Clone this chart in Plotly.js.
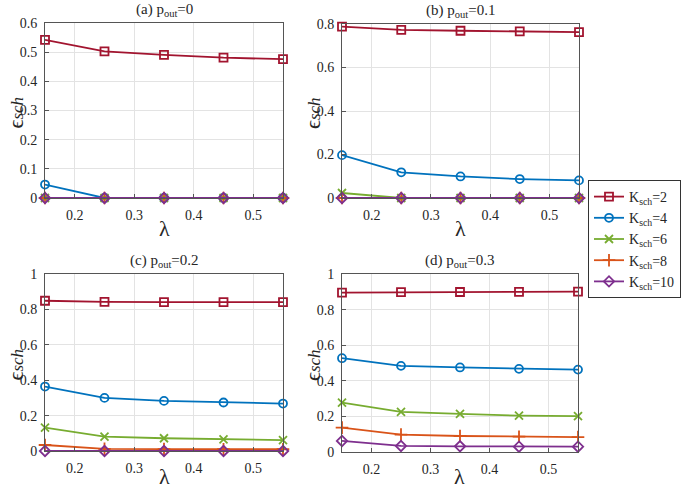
<!DOCTYPE html>
<html>
<head>
<meta charset="utf-8">
<script src="https://cdn.plot.ly/plotly-3.0.1.min.js"></script>
<style>html,body{margin:0;padding:0;background:#fff;}#chart{width:685px;height:491px;}</style>
</head>
<body>
<div id="chart"></div>
<script>
// ---- data ----
const lambda = [0.15, 0.25, 0.35, 0.45, 0.55];
const seriesNames = ['K<sub>sch</sub>=2', 'K<sub>sch</sub>=4', 'K<sub>sch</sub>=6', 'K<sub>sch</sub>=8', 'K<sub>sch</sub>=10'];
const panelTitles = ['(a) p<sub>out</sub>=0', '(b) p<sub>out</sub>=0.1', '(c) p<sub>out</sub>=0.2', '(d) p<sub>out</sub>=0.3'];
// rows: K=2, K=4, K=6, K=8, K=10
const panelA = [
  [0.542, 0.503, 0.491, 0.481, 0.476],
  [0.046, 0, 0, 0, 0],
  [0, 0, 0, 0, 0],
  [0, 0, 0, 0, 0],
  [0, 0, 0, 0, 0]
];
const panelB = [
  [0.788, 0.773, 0.769, 0.766, 0.763],
  [0.197, 0.118, 0.099, 0.087, 0.081],
  [0.023, 0, 0, 0, 0],
  [0, 0, 0, 0, 0],
  [0, 0, 0, 0, 0]
];
const panelC = [
  [0.849, 0.842, 0.841, 0.841, 0.841],
  [0.364, 0.300, 0.283, 0.274, 0.268],
  [0.132, 0.081, 0.072, 0.066, 0.062],
  [0.034, 0.012, 0.011, 0.010, 0.010],
  [0, 0, 0, 0, 0]
];
const panelD = [
  [0.895, 0.898, 0.899, 0.900, 0.901],
  [0.527, 0.484, 0.475, 0.467, 0.463],
  [0.278, 0.225, 0.214, 0.204, 0.201],
  [0.137, 0.098, 0.090, 0.086, 0.084],
  [0.062, 0.034, 0.032, 0.030, 0.030]
];
const yMax = [0.6, 0.8, 1, 1];
const yTickVals = [
  [0, 0.1, 0.2, 0.3, 0.4, 0.5, 0.6],
  [0, 0.2, 0.4, 0.6, 0.8],
  [0, 0.2, 0.4, 0.6, 0.8, 1],
  [0, 0.2, 0.4, 0.6, 0.8, 1]
];
const xTickVals = [0.2, 0.3, 0.4, 0.5];

// ---- styles ----
const colors = ['#A2142F', '#0072BD', '#77AC30', '#D95319', '#7E2F8E'];
const symbols = ['square-open', 'circle-open', 'x-thin-open', 'cross-thin-open', 'diamond-open'];
const W = 685, H = 491;
// panel boxes in pixels: [left, right, top, bottom]
const boxes = [
  [45, 283, 23, 198],
  [342, 579, 24, 198],
  [45, 283, 274, 451],
  [342, 578, 274, 452]
];
const font = '"Liberation Serif", "Times New Roman", serif';

const panels = [panelA, panelB, panelC, panelD];
const traces = [];
panels.forEach((p, pi) => {
  const ax = pi === 0 ? '' : String(pi + 1);
  p.forEach((vals, si) => {
    traces.push({
      x: lambda, y: vals, type: 'scatter', mode: 'lines+markers',
      name: seriesNames[si], showlegend: pi === 0, legendgroup: 'g' + si,
      xaxis: 'x' + ax, yaxis: 'y' + ax, cliponaxis: false,
      line: {color: colors[si], width: 1.8},
      marker: {symbol: symbols[si], size: si === 3 ? 9 : 8, color: colors[si], line: {color: colors[si], width: 1.8}}
    });
  });
});

const layout = {
  width: W, height: H, margin: {l: 0, r: 0, t: 0, b: 0},
  paper_bgcolor: '#fff', plot_bgcolor: '#fff',
  font: {family: font, size: 13, color: '#262626'},
  showlegend: true,
  legend: {
    x: 588 / W, y: 1 - 180 / H, xanchor: 'left', yanchor: 'top',
    bgcolor: '#fff', bordercolor: '#333', borderwidth: 1,
    font: {family: font, size: 14, color: '#262626'},
    tracegroupgap: 0, itemwidth: 30
  },
  annotations: []
};
boxes.forEach((b, i) => {
  const ax = i === 0 ? '' : String(i + 1);
  const common = {
    showgrid: true, gridcolor: '#e3e3e3', gridwidth: 1,
    showline: true, linecolor: '#555', linewidth: 1, mirror: true,
    ticks: 'inside', ticklen: 4, tickcolor: '#555', zeroline: false,
    ticklabelstandoff: 4,
    tickfont: {family: font, size: 14, color: '#262626'}
  };
  layout['xaxis' + ax] = Object.assign({}, common, {
    domain: [b[0] / W, b[1] / W], range: [0.15, 0.55],
    tickvals: xTickVals, ticktext: xTickVals.map(v => v.toFixed(1)),
    anchor: 'y' + ax
  });
  layout['yaxis' + ax] = Object.assign({}, common, {
    domain: [1 - b[3] / H, 1 - b[2] / H], range: [0, yMax[i]],
    tickvals: yTickVals[i], ticktext: yTickVals[i].map(v => String(v)),
    anchor: 'x' + ax
  });
  layout.annotations.push({
    text: panelTitles[i], xref: 'paper', yref: 'paper',
    x: (b[0] + b[1]) / 2 / W, y: 1 - (b[2] - 2) / H, xanchor: 'center', yanchor: 'bottom',
    showarrow: false, font: {family: font, size: 15, color: '#262626'}
  });
  const lamBottom = Math.min(b[3] + 45, H);
  layout.annotations.push({
    text: 'λ', xref: 'paper', yref: 'paper',
    x: (b[0] + b[1]) / 2 / W, y: 1 - lamBottom / H, xanchor: 'center', yanchor: 'bottom',
    showarrow: false, font: {family: font, size: 22, color: '#262626'}
  });
  layout.annotations.push({
    text: 'ϵ<span style="font-size:17px"><i>sch</i></span>', xref: 'paper', yref: 'paper', textangle: -90,
    x: (b[0] - 30) / W, y: 1 - ((b[2] + b[3]) / 2 + 2) / H, xanchor: 'center', yanchor: 'middle',
    showarrow: false, font: {family: font, size: 22, color: '#262626'}
  });
});

Plotly.newPlot('chart', traces, layout, {displayModeBar: false, staticPlot: true});
</script>
</body>
</html>
